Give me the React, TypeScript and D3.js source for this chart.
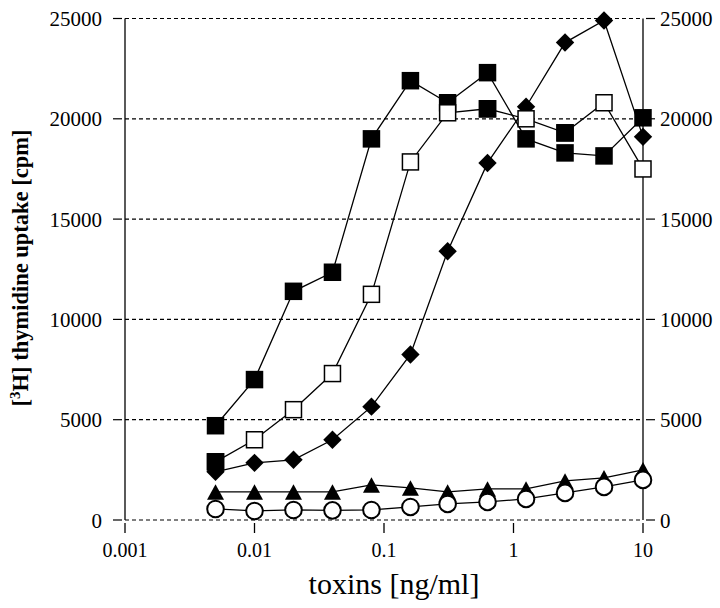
import React from "react";
import * as d3 from "d3";

const doses = [0.005, 0.01, 0.02, 0.04, 0.08, 0.16, 0.31, 0.63, 1.25, 2.5, 5, 10];
const filledSquares = [4700, 7000, 11400, 12350, 19000, 21900, 20800, 22300, 19000, 18300, 18150, 20050];
const openSquares = [2900, 4000, 5500, 7300, 11250, 17850, 20300, 20500, 20000, 19300, 20800, 17500];
// points of the open-square series that are printed as filled squares
const overlayDoses = [0.005, 0.63, 2.5];
const overlayValues = [2900, 20500, 19300];
const diamonds = [2400, 2850, 3000, 4000, 5650, 8250, 13400, 17800, 20600, 23800, 24900, 19100];
const triangles = [1400, 1400, 1400, 1400, 1750, 1600, 1400, 1550, 1550, 1950, 2100, 2500];
const circles = [550, 450, 500, 480, 500, 650, 800, 900, 1050, 1350, 1650, 2000];

const yTicks = [0, 5000, 10000, 15000, 20000, 25000];
const xTicks = [0.001, 0.01, 0.1, 1, 10];
const xTickLabels = ["0.001", "0.01", "0.1", "1", "10"];

const W = 720;
const H = 608;

export default function App() {
  const x = d3.scaleLog().domain([0.001, 10]).range([125, 643]);
  const y = d3.scaleLinear().domain([0, 25000]).range([520, 18.5]);
  const line = d3
    .line<[number, number]>()
    .x((d) => x(d[0]))
    .y((d) => y(d[1]));
  const pts = (vals: number[], xs: number[] = doses) => xs.map((d, i) => [d, vals[i]] as [number, number]);

  const font = "'Liberation Serif', 'Times New Roman', serif";
  const sq = 17.5;
  const diam = 9.2;
  const triW = 17;
  const triH = 15.5;
  const cr = 8.3;

  const series = [filledSquares, openSquares, diamonds, triangles, circles];

  return (
    <svg
      width={W}
      height={H}
      style={{ position: "absolute", left: 0, top: 0, background: "#fff" }}
      fontFamily={font}
    >
      <rect x={0} y={0} width={W} height={H} fill="#fff" />
      {/* grid lines */}
      {yTicks.map((t) => (
        <line
          key={"g" + t}
          x1={125}
          x2={643}
          y1={y(t)}
          y2={y(t)}
          stroke="#000"
          strokeWidth={1.2}
          strokeDasharray="4,3"
        />
      ))}
      {/* axes */}
      <line x1={125} x2={125} y1={y(25000)} y2={y(0)} stroke="#000" strokeWidth={1.3} />
      <line x1={643} x2={643} y1={y(25000)} y2={y(0)} stroke="#000" strokeWidth={1.3} />
      {yTicks.map((t) => (
        <g key={"yt" + t}>
          <line x1={113} x2={122} y1={y(t)} y2={y(t)} stroke="#000" strokeWidth={1.2} />
          <line x1={646} x2={655} y1={y(t)} y2={y(t)} stroke="#000" strokeWidth={1.2} />
          <text x={102} y={y(t) + 7.5} fontSize={21} textAnchor="end">
            {t}
          </text>
          <text x={660} y={y(t) + 7.5} fontSize={21} textAnchor="start">
            {t}
          </text>
        </g>
      ))}
      {xTicks.map((t, i) => (
        <g key={"xt" + t}>
          <line x1={x(t)} x2={x(t)} y1={523} y2={533} stroke="#000" strokeWidth={1.3} />
          <text x={x(t)} y={557} fontSize={20} textAnchor="middle">
            {xTickLabels[i]}
          </text>
        </g>
      ))}
      {/* axis titles */}
      <text x={394} y={594} fontSize={30} textAnchor="middle">
        toxins [ng/ml]
      </text>
      <text
        transform={`translate(28, 268) rotate(-90)`}
        fontSize={22.5}
        fontWeight="bold"
        textAnchor="middle"
      >
        [<tspan fontSize={15} dy={-8}>3</tspan>
        <tspan dy={8}>H] thymidine uptake [cpm]</tspan>
      </text>

      {/* lines */}
      {series.map((s, i) => (
        <path key={"l" + i} d={line(pts(s)) || ""} fill="none" stroke="#000" strokeWidth={1.3} />
      ))}

      {/* markers */}
      {pts(triangles).map((p, i) => (
        <path
          key={"tr" + i}
          d={`M${x(p[0])},${y(p[1]) - triH / 2} L${x(p[0]) + triW / 2},${y(p[1]) + triH / 2} L${x(p[0]) - triW / 2},${y(p[1]) + triH / 2} Z`}
          fill="#000"
        />
      ))}
      {pts(circles).map((p, i) => (
        <circle key={"c" + i} cx={x(p[0])} cy={y(p[1])} r={cr} fill="#fff" stroke="#000" strokeWidth={2} />
      ))}
      {pts(filledSquares).map((p, i) => (
        <rect key={"fs" + i} x={x(p[0]) - sq / 2} y={y(p[1]) - sq / 2} width={sq} height={sq} fill="#000" />
      ))}
      {pts(diamonds).map((p, i) => (
        <path
          key={"d" + i}
          d={`M${x(p[0])},${y(p[1]) - diam} L${x(p[0]) + diam},${y(p[1])} L${x(p[0])},${y(p[1]) + diam} L${x(p[0]) - diam},${y(p[1])} Z`}
          fill="#000"
        />
      ))}
      {pts(openSquares).map((p, i) => (
        <rect
          key={"os" + i}
          x={x(p[0]) - sq / 2 + 0.75}
          y={y(p[1]) - sq / 2 + 0.75}
          width={sq - 1.5}
          height={sq - 1.5}
          fill="#fff"
          stroke="#000"
          strokeWidth={1.5}
        />
      ))}
      {pts(overlayValues, overlayDoses).map((p, i) => (
        <rect key={"ov" + i} x={x(p[0]) - sq / 2} y={y(p[1]) - sq / 2} width={sq} height={sq} fill="#000" />
      ))}
    </svg>
  );
}
